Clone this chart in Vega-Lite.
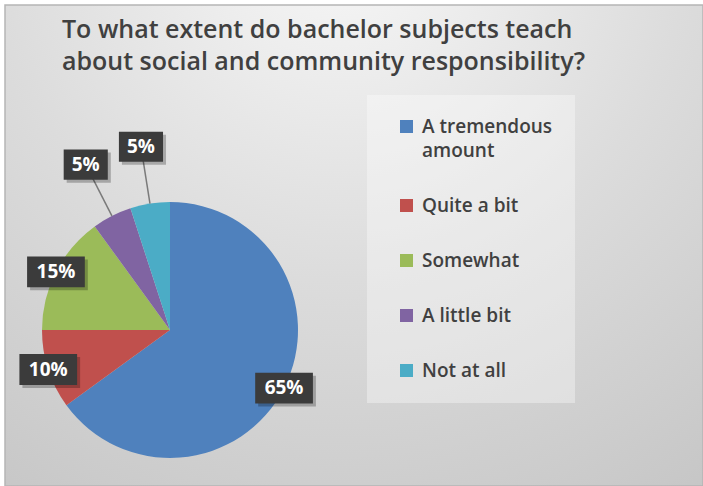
{
  "$schema": "https://vega.github.io/schema/vega-lite/v6.json",
  "width": 703,
  "height": 486,
  "autosize": {"type": "fit", "contains": "padding"},
  "padding": {"left": 5, "top": 5, "right": 0, "bottom": 0},
  "background": "#ffffff",
  "config": {
    "view": {
      "stroke": "#b5b5b5",
      "strokeWidth": 1.5,
      "fill": {
        "gradient": "radial",
        "x1": 0.48, "y1": 0.05, "r1": 0,
        "x2": 0.48, "y2": 0.05, "r2": 1,
        "stops": [
          {"offset": 0, "color": "#f8f8f8"},
          {"offset": 0.5, "color": "#dcdcdc"},
          {"offset": 1, "color": "#c4c4c4"}
        ]
      }
    }
  },
  "title": {
    "text": ["To what extent do bachelor subjects teach", "about social and community responsibility?"],
    "anchor": "start",
    "frame": "group",
    "orient": "top",
    "offset": -70,
    "dx": 57,
    "font": "Open Sans",
    "fontSize": 25,
    "fontWeight": 600,
    "color": "#404040",
    "lineHeight": 32
  },
  "data": {
    "values": [
      {"response": "A tremendous amount", "share": 0.65, "order": 1},
      {"response": "Quite a bit", "share": 0.10, "order": 2},
      {"response": "Somewhat", "share": 0.15, "order": 3},
      {"response": "A little bit", "share": 0.05, "order": 4},
      {"response": "Not at all", "share": 0.05, "order": 5}
    ]
  },
  "transform": [
    {"stack": "share", "groupby": [], "sort": [{"field": "order", "order": "ascending"}], "as": ["s0", "s1"]},
    {"joinaggregate": [{"op": "sum", "field": "share", "as": "total"}]},
    {"calculate": "PI * (datum.s0 + datum.s1) / datum.total", "as": "mid"},
    {"calculate": "datum.share < 0.1 ? 1.45 : 1.0", "as": "lr"},
    {"calculate": "sin(datum.mid) * datum.lr", "as": "lx"},
    {"calculate": "cos(datum.mid) * datum.lr", "as": "ly"},
    {"calculate": "sin(datum.mid)", "as": "ex"},
    {"calculate": "cos(datum.mid)", "as": "ey"}
  ],
  "layer": [
    {
      "mark": {"type": "arc", "outerRadius": 128},
      "encoding": {
        "theta": {"field": "share", "type": "quantitative", "stack": true},
        "order": {"field": "order", "type": "quantitative"},
        "color": {
          "field": "response",
          "type": "nominal",
          "scale": {
            "domain": ["A tremendous amount", "Quite a bit", "Somewhat", "A little bit", "Not at all"],
            "range": ["#4f81bd", "#c0504d", "#9bbb59", "#8064a2", "#4bacc6"]
          },
          "legend": {
            "orient": "none",
            "legendX": 362,
            "legendY": 90,
            "title": null,
            "direction": "vertical",
            "fillColor": "rgba(255,255,255,0.35)",
            "padding": 22,
            "symbolType": "square",
            "symbolSize": 169,
            "symbolStrokeWidth": 0,
            "symbolOffset": 8,
            "labelFont": "Open Sans",
            "labelFontSize": 19,
            "labelFontWeight": 600,
            "labelColor": "#404040",
            "labelOffset": 6,
            "labelLimit": 220,
            "labelBaseline": "alphabetic",
            "rowPadding": 35,
            "labelExpr": "datum.label == 'A tremendous amount' ? ['A tremendous', 'amount'] : datum.label",
            "encoding": {"labels": {"lineHeight": {"value": 24}, "dy": {"value": 6}}}
          }
        },
        "x": {"datum": 0, "type": "quantitative", "scale": {"domain": [-1.2890625, 4.1640625], "nice": false, "zero": false}, "axis": null},
        "y": {"datum": 0, "type": "quantitative", "scale": {"domain": [-1.21875, 2.5390625], "nice": false, "zero": false}, "axis": null}
      }
    },
    {
      "transform": [{"filter": "datum.share < 0.1"}],
      "mark": {"type": "rule", "color": "#7a7a7a", "strokeWidth": 1.5},
      "encoding": {
        "x": {"field": "ex", "type": "quantitative"},
        "y": {"field": "ey", "type": "quantitative"},
        "x2": {"field": "lx"},
        "y2": {"field": "ly"}
      }
    },
    {
      "mark": {"type": "point", "filled": true, "color": "#000000", "opacity": 0.25, "xOffset": 3, "yOffset": 3},
      "encoding": {
        "x": {"field": "lx", "type": "quantitative"},
        "y": {"field": "ly", "type": "quantitative"},
        "shape": {"condition": {"test": "datum.share < 0.1", "value": "M-1.07,-0.73H1.07V0.73H-1.07Z"}, "value": "M-1.4,-0.75H1.4V0.75H-1.4Z"},
        "size": {"value": 1700}
      }
    },
    {
      "mark": {"type": "point", "filled": true, "color": "#3b3b3b", "opacity": 1},
      "encoding": {
        "x": {"field": "lx", "type": "quantitative"},
        "y": {"field": "ly", "type": "quantitative"},
        "shape": {"condition": {"test": "datum.share < 0.1", "value": "M-1.07,-0.73H1.07V0.73H-1.07Z"}, "value": "M-1.4,-0.75H1.4V0.75H-1.4Z"},
        "size": {"value": 1700}
      }
    },
    {
      "mark": {"type": "text", "font": "Open Sans", "fontSize": 19, "fontWeight": "bold", "color": "#ffffff", "align": "center", "baseline": "middle"},
      "encoding": {
        "x": {"field": "lx", "type": "quantitative"},
        "y": {"field": "ly", "type": "quantitative"},
        "text": {"field": "share", "type": "quantitative", "format": ".0%"}
      }
    }
  ]
}
